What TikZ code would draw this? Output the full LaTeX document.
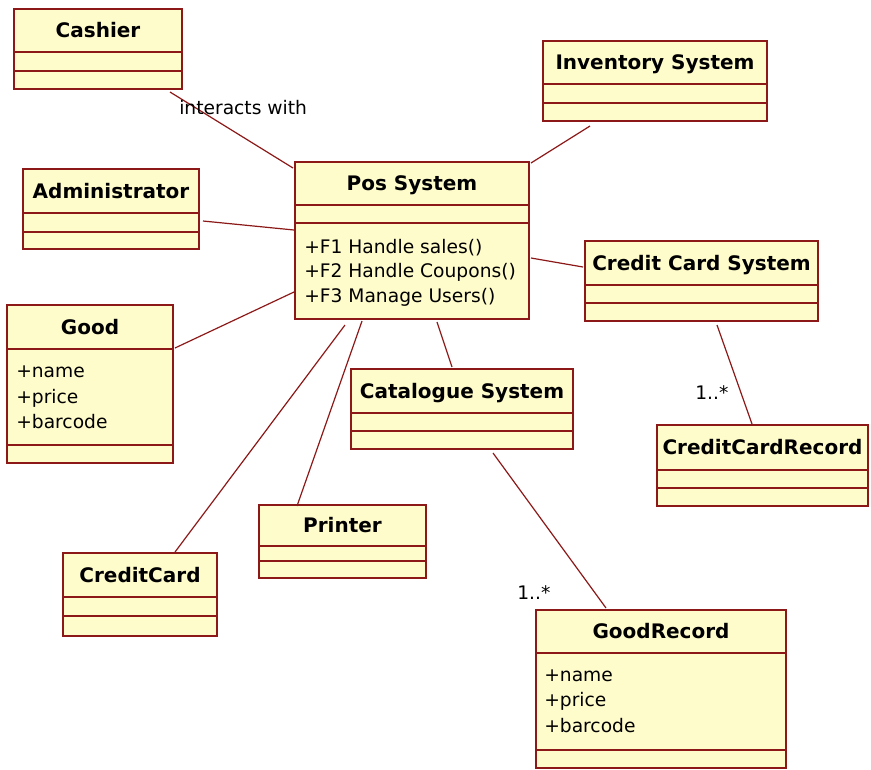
\documentclass[tikz,border=0pt]{standalone}
\usepackage{fontspec}
\setmainfont{DejaVu Sans}
\usetikzlibrary{calc}
\definecolor{umlfill}{RGB}{255,252,204}
\definecolor{umlline}{RGB}{140,24,24}
\tikzset{
  clsbox/.style={draw=umlline, fill=umlfill, line width=1.125pt, inner sep=0pt, outer sep=0pt, rectangle},
  sepline/.style={draw=umlline, line width=1.125pt},
  clstitle/.style={inner sep=0pt, font=\fontsize{15}{18}\selectfont\bfseries},
  attr/.style={inner sep=0pt, anchor=base west, font=\fontsize{14}{18}\selectfont},
  lbl/.style={inner sep=0pt, anchor=base west, font=\fontsize{14}{18}\selectfont},
  assoc/.style={draw=umlline, line width=0.9pt},
}
\newcommand\umlclass[8]{%
  \node[clsbox, minimum width={(#4-#2)*0.75pt}, minimum height={(#5-#3)*0.75pt}, anchor=north west] (#1) at (#2,#3) {};
  \draw[sepline] (#2,#6) -- (#4,#6) (#2,#7) -- (#4,#7);
  \node[clstitle, anchor=base] (#1-title) at ({(#2+#4)/2},{(#3+#6)/2+7}) {#8};
}
\begin{document}
\begin{tikzpicture}[x=0.75pt, y=-0.75pt]
\useasboundingbox (0,0) rectangle (871,769);
% classes
\umlclass{cashier}{14}{9}{182}{89}{52}{71}{Cashier}
\umlclass{inventory}{543}{41}{767}{121}{84}{103}{Inventory System}
\umlclass{admin}{23}{169}{199}{249}{213}{232}{Administrator}
\umlclass{pos}{295}{162}{529}{319}{205}{223}{Pos System}
\umlclass{ccs}{585}{241}{818}{321}{285}{303}{Credit Card System}
\umlclass{good}{7}{305}{173}{463}{349}{445}{Good}
\umlclass{catalogue}{351}{369}{573}{449}{413}{431}{Catalogue System}
\umlclass{ccr}{657}{425}{868}{506}{470}{488}{CreditCardRecord}
\umlclass{printer}{259}{505}{426}{578}{546}{561}{Printer}
\umlclass{creditcard}{63}{553}{217}{636}{597}{616}{CreditCard}
\umlclass{goodrecord}{536}{610}{786}{768}{653}{750}{GoodRecord}
% operations and attributes
\node[attr] (pos-op1) at (304,253) {+F1 Handle sales()};
\node[attr] (pos-op2) at (304,277) {+F2 Handle Coupons()};
\node[attr] (pos-op3) at (304,302) {+F3 Manage Users()};
\node[attr] (good-a1) at (16,377) {+name};
\node[attr] (good-a2) at (16,403) {+price};
\node[attr] (good-a3) at (16,428) {+barcode};
\node[attr] (gr-a1) at (544,681) {+name};
\node[attr] (gr-a2) at (544,706) {+price};
\node[attr] (gr-a3) at (544,732) {+barcode};
% associations
\draw[assoc] ([shift={(-12,3)}]cashier.south east) -- ([shift={(-2,6)}]pos.north west);
\draw[assoc] ([shift={(47,5)}]inventory.south west) -- ([shift={(2,1)}]pos.north east);
\draw[assoc] ([shift={(4,-28)}]admin.south east) -- ([shift={(-1,68)}]pos.north west);
\draw[assoc] ([shift={(2,96)}]pos.north east) -- ([shift={(-2,26)}]ccs.north west);
\draw[assoc] ([shift={(2,43)}]good.north east) -- ([shift={(-1,-27)}]pos.south west);
\draw[assoc] ([shift={(50,6)}]pos.south west) -- ([shift={(112,-1)}]creditcard.north west);
\draw[assoc] ([shift={(67,2)}]pos.south west) -- ([shift={(38,1)}]printer.north west);
\draw[assoc] ([shift={(142,3)}]pos.south west) -- ([shift={(101,-2)}]catalogue.north west);
\draw[assoc] ([shift={(142,4)}]catalogue.south west) -- ([shift={(70,-2)}]goodrecord.north west);
\draw[assoc] ([shift={(132,4)}]ccs.south west) -- ([shift={(95,-1)}]ccr.north west);
% labels
\node[lbl] (lbl-interacts) at (179,114) {interacts with};
\node[lbl] (lbl-ccr) at (695,399) {1..*};
\node[lbl] (lbl-gr) at (517,599) {1..*};
\end{tikzpicture}
\end{document}
